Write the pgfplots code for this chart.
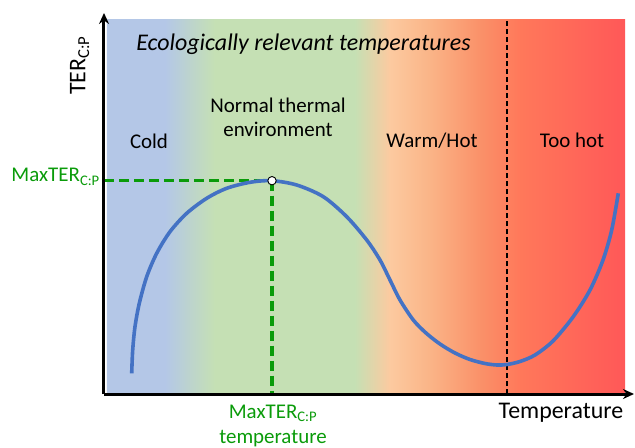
\documentclass[border=0pt]{standalone}
\usepackage{fontspec}
\setmainfont{Carlito}
\usepackage{pgfplots}
\pgfplotsset{compat=1.18}
\usetikzlibrary{arrows.meta}
\definecolor{cblue}{RGB}{180,199,231}
\definecolor{cgreen}{RGB}{197,224,180}
\definecolor{cpeach}{RGB}{252,202,160}
\definecolor{corangeA}{RGB}{250,180,135}
\definecolor{corangeB}{RGB}{250,145,105}
\definecolor{csalmon}{RGB}{255,120,90}
\definecolor{cred}{RGB}{255,88,88}
\definecolor{curveblue}{RGB}{68,114,196}
\definecolor{dgreen}{RGB}{10,155,10}
\pgfdeclarehorizontalshading{bgshade}{100bp}{color(0bp)=(cblue); color(30.6bp)=(cblue); color(35.4bp)=(cgreen); color(48.9bp)=(cgreen); color(52.3bp)=(cpeach); color(56.2bp)=(corangeA); color(61bp)=(corangeB); color(64.9bp)=(csalmon); color(75bp)=(cred); color(100bp)=(cred)}
\begin{document}
\begin{tikzpicture}
\begin{axis}[scale only axis, width=530bp, height=381bp,
  xmin=104, xmax=634, ymin=0, ymax=381,
  hide axis, clip=false,
  font=\fontsize{21}{25}\selectfont]
% background
\addplot[draw=none, shading=bgshade] coordinates {(107,374) (625,374)} \closedcycle;
% threshold
\addplot[black, line width=1.6bp, dash pattern=on 5bp off 3bp] coordinates {(507,0) (507,374)};
% green guides
\addplot[dgreen, line width=3.2bp, dash pattern=on 10bp off 5bp] coordinates {(104,213.3) (272,213.3)};
\addplot[dgreen, line width=3.2bp, dash pattern=on 10bp off 5bp] coordinates {(272,213.3) (272,0)};
% curve
\addplot[curveblue, line width=3.6bp, smooth] coordinates {
(131.7,20.7) (132.7,44) (135,67.3) (139.3,90.7) (146.7,117.3) (156.7,140.7) (170,162.3) (186.7,180.7) (206.7,195.7) (226.7,205.7) (250,211.7) (271.7,213.3) (296.7,209) (323.3,197.3) (346.7,177.3) (366.7,154) (380,134) (390,114) (400,94) (413.3,74) (426,61) (440,50) (455,41) (470,34.5) (485,30.5) (497,29) (507,29.5) (520,32.5) (535,39) (553,53) (573,77) (590,104) (603,134) (611.7,164) (618.3,200.7)};
\addplot[only marks, mark=*, mark size=4.2bp, mark options={fill=white, draw=black, line width=0.9bp}] coordinates {(272,213.3)};
% axis lines
\draw[line width=3bp, -{Stealth[length=11bp,width=10bp]}] (axis cs:104,0) -- (axis cs:634,0);
\draw[line width=3bp, -{Stealth[length=11bp,width=10bp]}] (axis cs:104,0) -- (axis cs:104,381);
% texts
\node[anchor=base, font=\fontsize{24}{28}\selectfont\itshape] at (axis cs:303.5,343) {Ecologically relevant temperatures};
\node[anchor=base] at (axis cs:149,245) {Cold};
\node[anchor=base] at (axis cs:278,281) {Normal thermal};
\node[anchor=base] at (axis cs:278,257) {environment};
\node[anchor=base] at (axis cs:432,246) {Warm/Hot};
\node[anchor=base] at (axis cs:572,246) {Too hot};
\node[anchor=base, rotate=90, inner sep=0pt, font=\fontsize{24}{28}\selectfont] at (axis cs:85.5,328.5) {TER\textsubscript{C:P}};
\node[anchor=base east, text=dgreen, inner sep=0pt] at (axis cs:100,212) {MaxTER\textsubscript{C:P}};
\node[anchor=base, text=dgreen] at (axis cs:273,-24) {MaxTER\textsubscript{C:P}};
\node[anchor=base, text=dgreen] at (axis cs:273,-49) {temperature};
\node[anchor=base, font=\fontsize{24}{28}\selectfont] at (axis cs:561,-24) {Temperature};
\coordinate (bl) at (axis cs:0,-53);
\coordinate (tr) at (axis cs:635,394);
\end{axis}
\pgfresetboundingbox
\path[use as bounding box] (bl) rectangle (tr);
\end{tikzpicture}
\end{document}
